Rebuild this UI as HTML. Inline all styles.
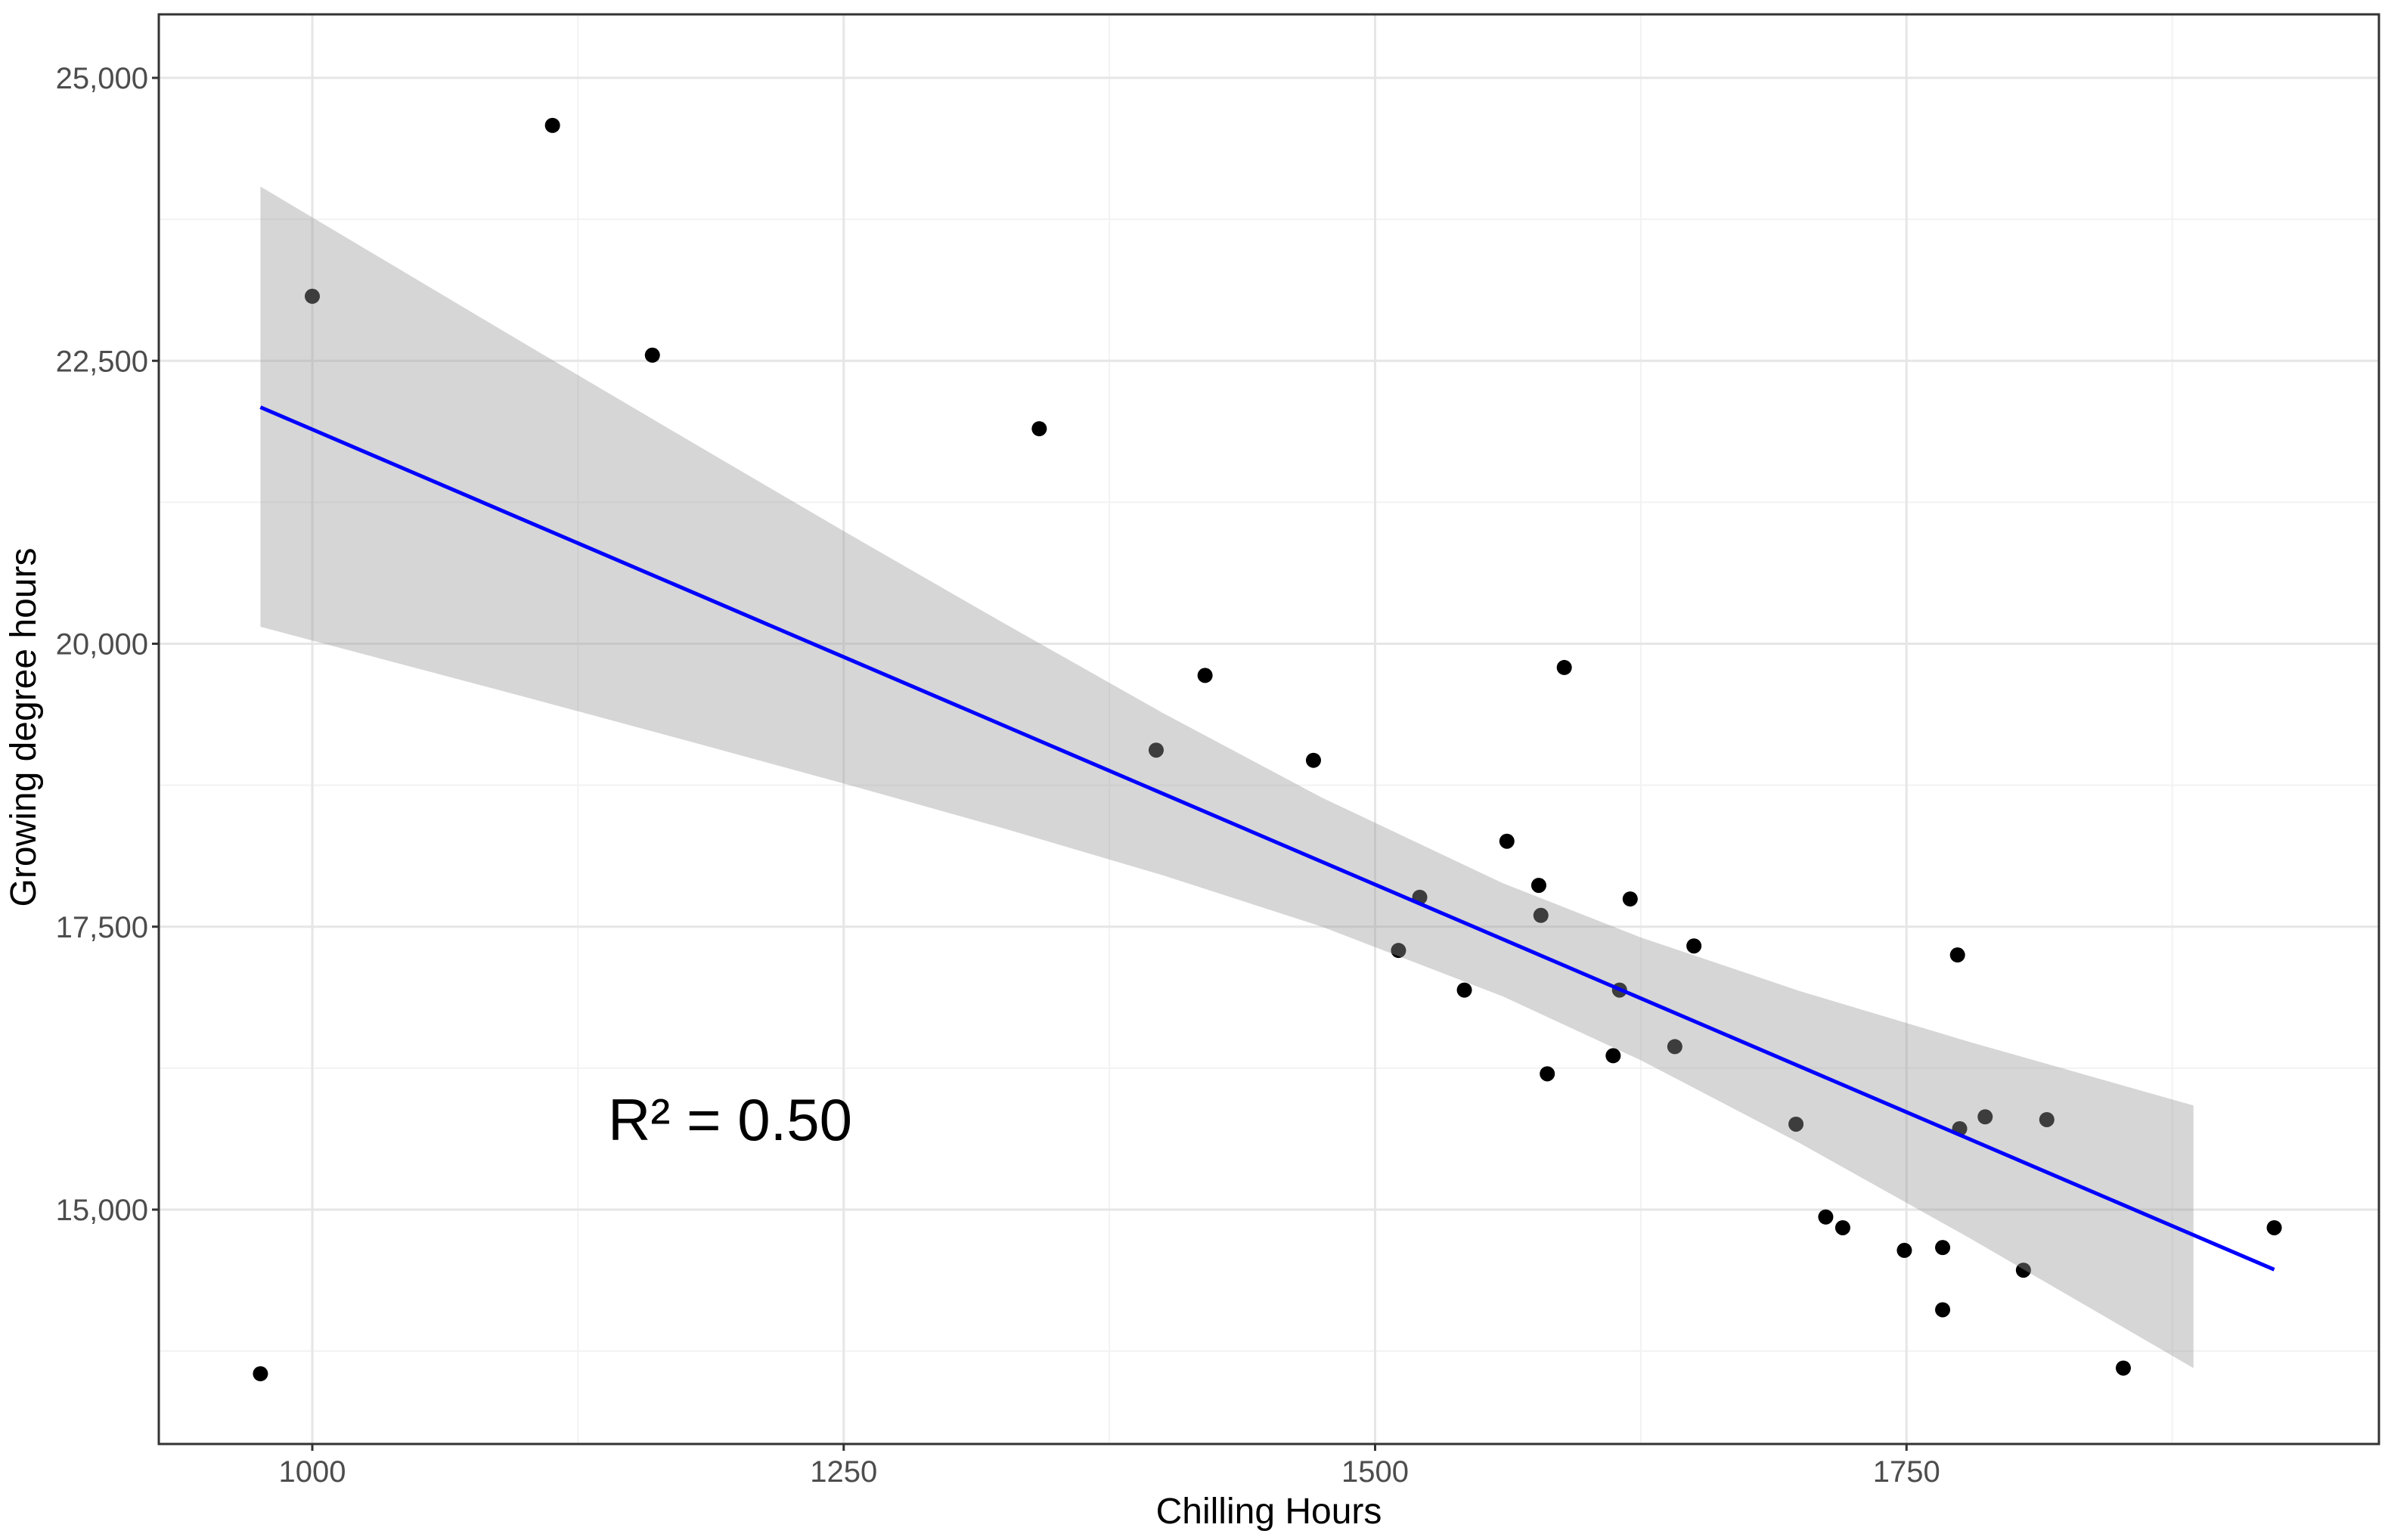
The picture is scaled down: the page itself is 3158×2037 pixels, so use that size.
<!DOCTYPE html>
<html><head><meta charset="utf-8"><style>
html,body{margin:0;padding:0;background:#fff;}
svg{display:block;font-family:"Liberation Sans",Arial,sans-serif;}
</style></head><body>
<svg id="chart" width="3158" height="2037" viewBox="0 0 3158 2037"></svg>
<script>
const pointX=[975.6,1000,1113,1160,1342,1397,1420,1471,1589,1562,1521,1511,1577,1578,1620,1650,1542,1615,1581,1612,1641,1774,1698,1775,1787,1816,1712,1720,1749,1767,1767,1805,1852,1923];
const pointY=[13550,23070,24580,22550,21900,19060,19720,18970,19790,18255,17760,17290,17865,17600,17745,17330,16940,16940,16200,16360,16440,17250,15755,15715,15820,15795,14935,14840,14640,14665,14115,14465,13600,14840];
const fitX=[975.6,1923];
const fitY=[22090,14470];
const bandX=[975.6,1100,1175,1250,1325,1400,1475,1560,1625,1700,1780,1885];
const bandLow=[20150,19530,19150,18765,18370,17955,17500,16885,16320,15585,14745,13600];
const bandHigh=[24040,22650,21820,20995,20185,19390,18640,17885,17405,16930,16480,15920];
const xTicks=[1000,1250,1500,1750];
const xMinor=[1125,1375,1625,1875];
const yTicks=[15000,17500,20000,22500,25000];
const yTickLabels=["15,000","17,500","20,000","22,500","25,000"];
const yMinor=[13750,16250,18750,21250,23750];
const r2Label="R² = 0.50";

const NS="http://www.w3.org/2000/svg";
const svg=document.getElementById('chart');
const P={l:210,t:19,r:3146,b:1910};
function sx(v){return 413+(v-1000)*2.811;}
function sy(v){return 103+(25000-v)*0.1497;}
function mk(tag,attrs,parent){const e=document.createElementNS(NS,tag);for(const k in attrs)e.setAttribute(k,attrs[k]);(parent||svg).appendChild(e);return e;}

const grid=mk('g',{});


xMinor.forEach(v=>{const l=mk('line',{x1:sx(v),x2:sx(v),y1:P.t,y2:P.b,stroke:'#f2f2f2','stroke-width':2},grid);

});
yMinor.forEach(v=>{const l=mk('line',{x1:P.l,x2:P.r,y1:sy(v),y2:sy(v),stroke:'#f2f2f2','stroke-width':2},grid);

});
xTicks.forEach(v=>{const l=mk('line',{x1:sx(v),x2:sx(v),y1:P.t,y2:P.b,stroke:'#e6e6e6','stroke-width':3},grid);

});
yTicks.forEach(v=>{const l=mk('line',{x1:P.l,x2:P.r,y1:sy(v),y2:sy(v),stroke:'#e6e6e6','stroke-width':3},grid);

});

const pts=mk('g',{});


pointX.forEach((x,i)=>{const c=mk('circle',{cx:sx(x),cy:sy(pointY[i]),r:10,fill:'#000'},pts);

});

let d='';
bandX.forEach((x,i)=>{d+=(i?'L':'M')+sx(x)+','+sy(bandHigh[i]);});
for(let i=bandX.length-1;i>=0;i--){d+='L'+sx(bandX[i])+','+sy(bandLow[i]);}
d+='Z';
const band=mk('path',{d:d,fill:'#999999','fill-opacity':0.4});



const fit=mk('line',{x1:sx(fitX[0]),y1:sy(fitY[0]),x2:sx(fitX[1]),y2:sy(fitY[1]),stroke:'#0000ff','stroke-width':5});



const border=mk('rect',{x:P.l,y:P.t,width:P.r-P.l,height:P.b-P.t,fill:'none',stroke:'#333','stroke-width':3});



xTicks.forEach(v=>{
  const t=mk('line',{x1:sx(v),x2:sx(v),y1:P.b,y2:P.b+9,stroke:'#333','stroke-width':3});
  
  
  const tx=mk('text',{x:sx(v),y:P.b+50,'text-anchor':'middle','font-size':40,fill:'#4d4d4d'});
  tx.textContent=v;
  
  
});
yTicks.forEach((v,i)=>{
  const t=mk('line',{x1:P.l-9,x2:P.l,y1:sy(v),y2:sy(v),stroke:'#333','stroke-width':3});
  
  
  const tx=mk('text',{x:P.l-14,y:sy(v)+14,'text-anchor':'end','font-size':40,fill:'#4d4d4d'});
  tx.textContent=yTickLabels[i];
  
  
});

const xt=mk('text',{x:(P.l+P.r)/2,y:2015,'text-anchor':'middle','font-size':48,fill:'#000'});
xt.textContent='Chilling Hours';


const yt=mk('text',{x:0,y:0,'text-anchor':'middle','font-size':48,fill:'#000',transform:'translate(47,962) rotate(-90)'});
yt.textContent='Growing degree hours';


const r2=mk('text',{x:804,y:1508,'font-size':78,fill:'#000'});
r2.textContent=r2Label;


</script>
</body></html>
